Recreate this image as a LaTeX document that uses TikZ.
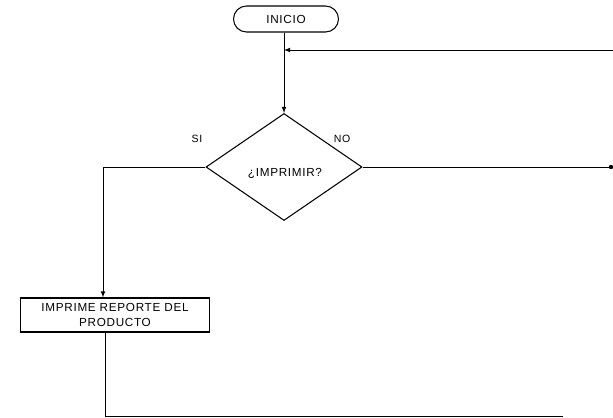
\documentclass[tikz,border=0pt]{standalone}
\usepackage{fontspec}
\setmainfont{Liberation Sans}
\newfontfamily\scanfont[LetterSpace=6]{Liberation Sans}
\usetikzlibrary{shapes.geometric}
\begin{document}
\begin{tikzpicture}[x=0.03cm, y=-0.03cm, every node/.style={align=center, font=\scanfont\fontsize{10}{12.5}\selectfont}]
\tikzset{
  terminal/.style={draw, line width=0.9pt, rounded corners=0.39cm, minimum width=3.15cm, minimum height=0.78cm, inner sep=0pt},
  decision/.style={draw, line width=0.9pt, diamond, minimum width=4.68cm, minimum height=3.21cm, inner sep=0pt},
  process/.style={draw, line width=0.9pt, minimum width=5.67cm, minimum height=1.02cm, inner sep=0pt},
  flowlabel/.style={font=\scanfont\fontsize{9}{11}\selectfont},
  flow/.style={-latex, line width=0.8pt},
  plain/.style={line width=0.8pt}
}
\useasboundingbox (0,0) rectangle (613,418);
\node[terminal] (inicio) at (286,19) {INICIO};
\node[decision] (imprimir) at (284,167) {};
\node (pregunta) at (285,173) {¿IMPRIMIR?};
\node[process] (reporte) at (115,315) {IMPRIME REPORTE DEL\\PRODUCTO};
\node[flowlabel] (si) at (197,139) {SI};
\node[flowlabel] (no) at (342,139) {NO};

\coordinate (regreso) at (613,50);
\coordinate (noFin) at (611,167);
\coordinate (siEsquina) at (103,167);
\coordinate (finEsquina) at (105,416);
\coordinate (finDer) at (563,416);

\draw[flow] (inicio.south -| imprimir) -- (imprimir.north);
\draw[flow] (regreso) -- (regreso -| imprimir);
\draw[plain] (imprimir.east) -- (noFin);
\fill (noFin) circle (2.2);
\draw[flow] (imprimir.west) -- (siEsquina) -- (siEsquina |- reporte.north);
\draw[plain] (reporte.south -| finEsquina) -- (finEsquina) -- (finDer);
\end{tikzpicture}
\end{document}
